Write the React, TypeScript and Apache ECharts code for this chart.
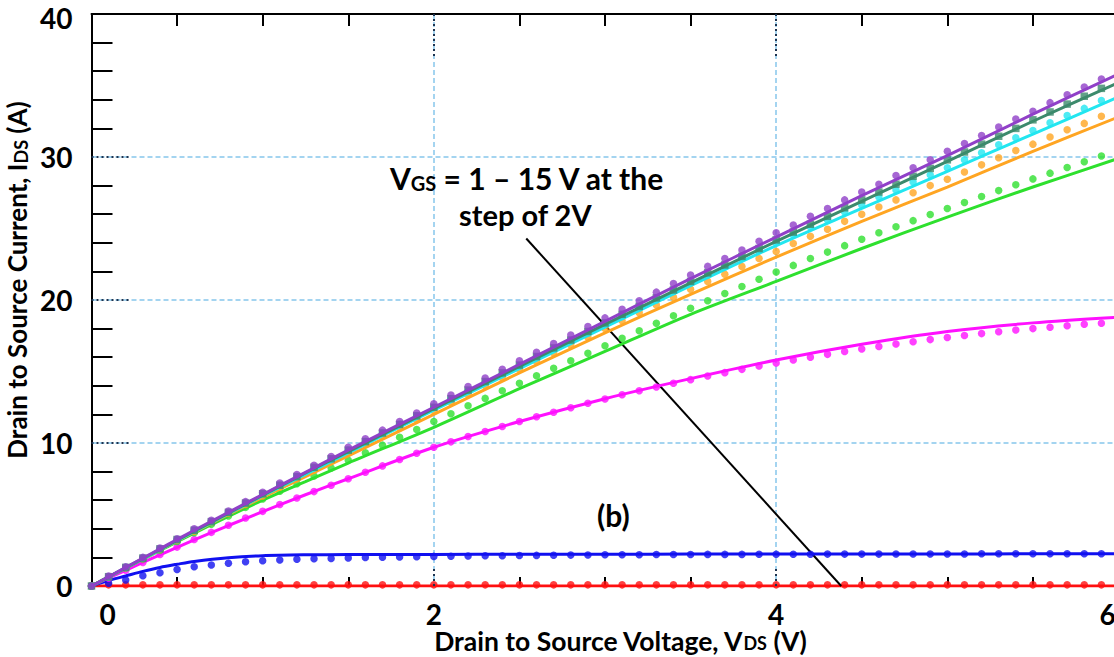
import React, { useEffect, useRef } from "react";
import * as echarts from "echarts";

// Drain voltage samples for the measured points (V)
const vMeas = [
  0, 0.1, 0.2, 0.3, 0.4, 0.5, 0.6, 0.7, 0.8, 0.9,
  1.0, 1.1, 1.2, 1.3, 1.4, 1.5, 1.6, 1.7, 1.8, 1.9,
  2.0, 2.1, 2.2, 2.3, 2.4, 2.5, 2.6, 2.7, 2.8, 2.9,
  3.0, 3.1, 3.2, 3.3, 3.4, 3.5, 3.6, 3.7, 3.8, 3.9,
  4.0, 4.1, 4.2, 4.3, 4.4, 4.5, 4.6, 4.7, 4.8, 4.9,
  5.0, 5.1, 5.2, 5.3, 5.4, 5.5, 5.6, 5.7, 5.8, 5.9, 6.0,
];

// Drain voltage samples for the model curves (V)
const vModel = [0, 0.1, 0.2, 0.3, 0.4, 0.5, 0.6, 0.8, 1, 1.25, 1.5, 2, 2.5, 3, 3.5, 4, 4.5, 5, 5.5, 6];

// Gate voltages, 1 V to 15 V in 2 V steps
const vgsLabels = ["1 V", "3 V", "5 V", "7 V", "9 V", "11 V", "13 V", "15 V"];
const curveColors = ["#ff1010", "#1010f0", "#ff10ff", "#2ee02e", "#ffa522", "#22e6f0", "#3c8a6c", "#9040c8"];

// Model curves, I_DS (A) at vModel
const model1 = [0, 0, 0, 0, 0, 0, 0, 0, 0, 0, 0, 0, 0, 0, 0, 0, 0, 0, 0, 0];
const model3 = [0, 0.38, 0.7, 1.02, 1.3, 1.52, 1.72, 1.98, 2.12, 2.18, 2.2, 2.21, 2.22, 2.22, 2.23, 2.23, 2.24, 2.24, 2.25, 2.25];
const model5 = [0, 0.56, 1.1, 1.65, 2.18, 2.7, 3.22, 4.23, 5.2, 6.38, 7.5, 9.7, 11.5, 13.1, 14.5, 15.8, 16.9, 17.8, 18.4, 18.8];
const model7 = [0, 0.63, 1.25, 1.87, 2.48, 3.1, 3.7, 4.87, 6.0, 7.3, 8.6, 11.1, 13.8, 16.4, 19.0, 21.3, 23.6, 25.8, 27.9, 29.9];
const model9 = [0, 0.63, 1.26, 1.89, 2.52, 3.15, 3.77, 5.0, 6.2, 7.65, 9.1, 12.0, 14.9, 17.7, 20.4, 23.0, 25.5, 27.9, 30.4, 32.8];
const model11 = [0, 0.63, 1.27, 1.9, 2.53, 3.17, 3.8, 5.05, 6.3, 7.8, 9.3, 12.3, 15.2, 18.1, 21.0, 23.8, 26.4, 29.0, 31.6, 34.2];
const model13 = [0, 0.64, 1.28, 1.92, 2.56, 3.2, 3.83, 5.1, 6.35, 7.9, 9.4, 12.4, 15.35, 18.3, 21.2, 24.1, 26.9, 29.7, 32.5, 35.2];
const model15 = [0, 0.65, 1.3, 1.95, 2.6, 3.25, 3.9, 5.15, 6.4, 7.95, 9.5, 12.5, 15.5, 18.5, 21.5, 24.4, 27.3, 30.1, 33.0, 35.8];

// Measured points, I_DS (A) at vMeas
const meas1 = [
  0, 0.08, 0.08, 0.08, 0.08, 0.08, 0.08, 0.08, 0.08, 0.08,
  0.08, 0.08, 0.08, 0.08, 0.08, 0.08, 0.08, 0.08, 0.08, 0.08,
  0.08, 0.08, 0.08, 0.08, 0.08, 0.08, 0.08, 0.08, 0.08, 0.08,
  0.08, 0.08, 0.08, 0.08, 0.08, 0.08, 0.08, 0.08, 0.08, 0.08,
  0.08, 0.08, 0.08, 0.08, 0.08, 0.08, 0.08, 0.08, 0.08, 0.08,
  0.08, 0.08, 0.08, 0.08, 0.08, 0.08, 0.08, 0.08, 0.08, 0.08, 0.08,
];
const meas3 = [
  0, 0.2, 0.42, 0.72, 0.93, 1.15, 1.35, 1.47, 1.59, 1.7,
  1.77, 1.82, 1.87, 1.9, 1.93, 1.96, 1.99, 2.01, 2.03, 2.05,
  2.07, 2.08, 2.1, 2.11, 2.12, 2.13, 2.14, 2.15, 2.16, 2.17,
  2.18, 2.19, 2.19, 2.2, 2.2, 2.2, 2.21, 2.21, 2.21, 2.22,
  2.22, 2.22, 2.22, 2.23, 2.23, 2.23, 2.23, 2.24, 2.24, 2.24,
  2.24, 2.24, 2.25, 2.25, 2.25, 2.25, 2.25, 2.26, 2.26, 2.26, 2.26,
];
const meas5 = [
  0, 0.55, 1.1, 1.65, 2.2, 2.72, 3.25, 3.75, 4.25, 4.75,
  5.22, 5.7, 6.15, 6.6, 7.05, 7.5, 7.95, 8.4, 8.85, 9.28,
  9.7, 10.08, 10.45, 10.8, 11.15, 11.5, 11.83, 12.15, 12.47, 12.78,
  13.08, 13.37, 13.65, 13.92, 14.18, 14.43, 14.68, 14.92, 15.15, 15.38,
  15.6, 15.8, 16.0, 16.2, 16.4, 16.58, 16.75, 16.92, 17.08, 17.23,
  17.38, 17.52, 17.65, 17.78, 17.9, 18.0, 18.1, 18.2, 18.3, 18.38, 18.45,
];
const meas7 = [
  0, 0.63, 1.26, 1.89, 2.5, 3.12, 3.72, 4.32, 4.9, 5.5,
  6.08, 6.62, 7.15, 7.7, 8.25, 8.8, 9.32, 9.85, 10.4, 10.95,
  11.5, 12.05, 12.6, 13.12, 13.65, 14.18, 14.7, 15.22, 15.75, 16.27,
  16.8, 17.32, 17.85, 18.38, 18.9, 19.42, 19.95, 20.45, 20.95, 21.45,
  21.95, 22.42, 22.9, 23.35, 23.8, 24.25, 24.7, 25.12, 25.55, 25.98,
  26.4, 26.82, 27.24, 27.65, 28.06, 28.47, 28.87, 29.27, 29.67, 30.07, 30.47,
];
const meas9 = [
  0, 0.65, 1.28, 1.92, 2.56, 3.2, 3.83, 4.45, 5.08, 5.7,
  6.3, 6.9, 7.5, 8.1, 8.7, 9.3, 9.9, 10.5, 11.05, 11.65,
  12.25, 12.85, 13.4, 14.0, 14.55, 15.15, 15.7, 16.3, 16.85, 17.4,
  18.0, 18.55, 19.1, 19.65, 20.2, 20.75, 21.3, 21.8, 22.35, 22.9,
  23.4, 23.95, 24.45, 24.95, 25.5, 26.0, 26.5, 27.0, 27.5, 28.0,
  28.45, 28.95, 29.45, 29.95, 30.45, 30.9, 31.4, 31.9, 32.35, 32.85, 33.3,
];
const meas11 = [
  0, 0.65, 1.3, 1.95, 2.6, 3.25, 3.9, 4.5, 5.15, 5.8,
  6.45, 7.05, 7.65, 8.25, 8.85, 9.5, 10.1, 10.7, 11.3, 11.9,
  12.5, 13.1, 13.65, 14.25, 14.8, 15.4, 16.0, 16.55, 17.15, 17.7,
  18.3, 18.85, 19.45, 20.0, 20.6, 21.2, 21.75, 22.3, 22.9, 23.45,
  24.0, 24.55, 25.1, 25.6, 26.15, 26.65, 27.2, 27.7, 28.25, 28.75,
  29.25, 29.8, 30.3, 30.85, 31.35, 31.85, 32.4, 32.9, 33.4, 33.95, 34.45,
];
const meas13 = [
  0, 0.65, 1.3, 1.95, 2.6, 3.25, 3.9, 4.5, 5.15, 5.8,
  6.45, 7.05, 7.65, 8.3, 8.9, 9.5, 10.1, 10.7, 11.3, 11.9,
  12.5, 13.1, 13.7, 14.3, 14.9, 15.45, 16.05, 16.65, 17.2, 17.8,
  18.4, 19.0, 19.55, 20.15, 20.7, 21.3, 21.9, 22.45, 23.05, 23.6,
  24.2, 24.75, 25.3, 25.85, 26.45, 27.0, 27.55, 28.1, 28.65, 29.2,
  29.8, 30.35, 30.9, 31.45, 32.0, 32.6, 33.15, 33.7, 34.25, 34.8, 35.35,
];
const meas15 = [
  0, 0.7, 1.35, 2.0, 2.65, 3.3, 4.0, 4.6, 5.25, 5.9,
  6.55, 7.2, 7.8, 8.45, 9.05, 9.7, 10.3, 10.9, 11.5, 12.1,
  12.75, 13.35, 13.95, 14.55, 15.15, 15.75, 16.35, 16.95, 17.55, 18.15,
  18.75, 19.35, 19.95, 20.55, 21.15, 21.75, 22.35, 22.9, 23.5, 24.1,
  24.7, 25.25, 25.85, 26.4, 27.0, 27.55, 28.1, 28.7, 29.25, 29.8,
  30.4, 30.95, 31.5, 32.1, 32.65, 33.2, 33.8, 34.35, 34.9, 35.45, 36.0,
];

const modelCurves = [model1, model3, model5, model7, model9, model11, model13, model15];
const measCurves = [meas1, meas3, meas5, meas7, meas9, meas11, meas13, meas15];
const measSymbols = ["circle", "circle", "circle", "circle", "circle", "circle", "rect", "circle"];

// Arrow running across the family of curves (tail, head) in V / A
const arrowTail = [4.38, 0];
const arrowHead = [2.54, 24.3];

// Axis tick values
const xTicks = [0, 2, 4, 6];
const yTicks = [0, 10, 20, 30, 40];

const FONT = "Lato";
const GRID_BLUE = "#86c6ec";
const ACCENT = "#1f3450";

export default function App() {
  const ref = useRef<HTMLDivElement>(null);

  useEffect(() => {
    if (!ref.current) return;
    const chart = echarts.init(ref.current, null, { renderer: "svg" });

    const series: any[] = [];
    modelCurves.forEach((ys, i) => {
      series.push({
        name: `model ${vgsLabels[i]}`,
        type: "line",
        data: vModel.map((v, k) => [v, ys[k]]),
        smooth: 0.3,
        symbol: "none",
        lineStyle: { color: curveColors[i], width: 3 },
        z: 3 + i * 2,
      });
      series.push({
        name: `measured ${vgsLabels[i]}`,
        type: "scatter",
        data: vMeas.map((v, k) => [v, measCurves[i][k]]),
        symbol: measSymbols[i],
        symbolSize: 7.5,
        itemStyle: { color: curveColors[i] },
        z: 4 + i * 2,
      });
    });

    // dark dotted ends of the grid lines next to the axes
    series.push({
      type: "line",
      data: [],
      markLine: {
        silent: true,
        symbol: "none",
        label: { show: false },
        lineStyle: { color: ACCENT, width: 2, type: [2, 3] },
        data: [
          [{ coord: [0, 10] }, { coord: [0.23, 10] }],
          [{ coord: [0, 20] }, { coord: [0.23, 20] }],
          [{ coord: [0, 30] }, { coord: [0.23, 30] }],
          [{ coord: [2, 40] }, { coord: [2, 37] }],
          [{ coord: [4, 40] }, { coord: [4, 37] }],
          [{ coord: [2, 0] }, { coord: [2, 1.2] }],
          [{ coord: [4, 0] }, { coord: [4, 1.2] }],
        ],
      },
      z: 2,
    });

    // arrow indicating increasing V_GS
    series.push({
      type: "line",
      data: [],
      markLine: {
        silent: true,
        symbol: ["none", "arrow"],
        symbolSize: [0, 13],
        label: { show: false },
        lineStyle: { color: "#000", width: 2, type: "solid" },
        data: [[{ coord: arrowTail }, { coord: arrowHead }]],
      },
      z: 30,
    });

    const labelStyle = { fontFamily: FONT, fontWeight: "bold", fontSize: 28, color: "#000", lineHeight: 28 };
    const xLabelStyle = { ...labelStyle, lineHeight: 24 };
    const nameRich = {
      s: { fontFamily: FONT, fontWeight: "bold", fontSize: 18, color: "#000", lineHeight: 10, verticalAlign: "bottom" },
    };

    chart.setOption({
      animation: false,
      backgroundColor: "#fff",
      grid: {
        left: 91.5,
        right: -4.5,
        top: 14,
        bottom: 71,
        containLabel: false,
        outerBoundsMode: "none",
      },
      xAxis: [
        {
          type: "value",
          position: "bottom",
          min: xTicks[0],
          max: xTicks[xTicks.length - 1],
          interval: 2,
          axisLine: { show: true, onZero: false, lineStyle: { color: "#000", width: 2 } },
          axisTick: { show: false, inside: true },
          minorTick: { show: true, splitNumber: 4, length: 9, lineStyle: { color: "#000", width: 2 } },
          splitLine: { show: true, lineStyle: { color: GRID_BLUE, width: 1.5, type: [5, 3] } },
          axisLabel: {
            ...xLabelStyle,
            margin: 16,
            formatter: (v: number) => (v === 0 ? "{z|0}" : v === 6 ? "{e|6}" : String(v)),
            rich: {
              z: { ...xLabelStyle, padding: [0, 0, 0, 32] },
              e: { ...xLabelStyle, padding: [0, 22, 0, 0] },
            },
          },
          name: "Drain to Source Voltage, V{s|DS} (V)",
          nameLocation: "middle",
          nameGap: 44,
          nameMoveOverlap: false,
          nameTextStyle: {
            fontFamily: FONT,
            fontWeight: "bold",
            fontSize: 26.5,
            color: "#000",
            lineHeight: 22,
            padding: [0, 0, 0, 30],
            rich: nameRich,
          },
        },
        {
          type: "value",
          position: "top",
          min: xTicks[0],
          max: xTicks[xTicks.length - 1],
          interval: 2,
          axisLine: { show: true, onZero: false, lineStyle: { color: "#000", width: 2 } },
          axisTick: { show: false, inside: true },
          minorTick: { show: true, splitNumber: 4, length: 12, lineStyle: { color: "#000", width: 2 } },
          splitLine: { show: false },
          axisLabel: { show: false },
        },
      ],
      yAxis: {
        type: "value",
        min: yTicks[0],
        max: yTicks[yTicks.length - 1],
        interval: 10,
        axisLine: { show: true, onZero: false, lineStyle: { color: "#000", width: 2 } },
        axisTick: { show: false, inside: true },
        minorTick: { show: true, splitNumber: 5, length: 21, lineStyle: { color: "#000", width: 2 } },
        splitLine: { show: true, lineStyle: { color: GRID_BLUE, width: 1.5, type: [5, 3] } },
        axisLabel: {
          ...labelStyle,
          margin: 19,
          formatter: (v: number) => (v === 40 ? "{t|40}" : String(v)),
          rich: { t: { ...labelStyle, padding: [8, 0, 0, 0] } },
        },
        name: "Drain to Source Current, I{s|DS} (A)",
        nameLocation: "middle",
        nameRotate: 90,
        nameGap: 62,
        nameMoveOverlap: false,
        nameTextStyle: {
          fontFamily: FONT,
          fontWeight: "bold",
          fontSize: 26,
          color: "#000",
          lineHeight: 26,
          padding: [0, 0, 0, 40],
          rich: nameRich,
        },
      },
      graphic: [
        {
          type: "text",
          left: 390,
          top: 163,
          z: 40,
          style: {
            text: "{a|V}{s|GS}{a| = 1 – 15 V at the}",
            rich: {
              a: { fontFamily: FONT, fontWeight: "bold", fontSize: 30, lineHeight: 30, fill: "#000" },
              s: { fontFamily: FONT, fontWeight: "bold", fontSize: 20, lineHeight: 12, verticalAlign: "bottom", fill: "#000" },
            },
          },
        },
        {
          type: "text",
          left: 459,
          top: 200,
          z: 40,
          style: { text: "step of 2V", fontFamily: FONT, fontWeight: "bold", fontSize: 29, fill: "#000" },
        },
        {
          type: "text",
          left: 597,
          top: 500,
          z: 40,
          style: { text: "(b)", fontFamily: FONT, fontWeight: "bold", fontSize: 30, fill: "#000" },
        },
      ],
      series,
    });

    return () => chart.dispose();
  }, []);

  return (
    <div
      ref={ref}
      style={{ position: "absolute", left: 0, top: 0, width: 1114, height: 657, background: "#fff" }}
    />
  );
}
